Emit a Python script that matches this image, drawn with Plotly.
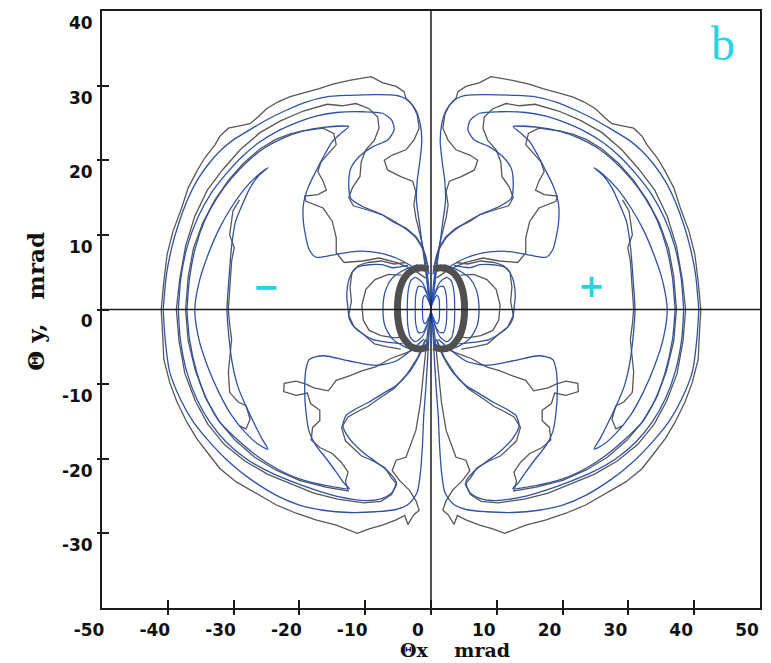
import plotly.graph_objects as go

# ---- axis ticks -------------------------------------------------------------
x_tick_vals = [-50, -40, -30, -20, -10, 0, 10, 20, 30, 40, 50]
x_tick_text = ["-50", "-40", "-30", "-20", "-10", "0", "10", "20", "30", "40", "50"]
y_tick_vals = [40, 30, 20, 10, 0, -10, -20, -30]
y_tick_text = ["40", "30", "20", "10", "0", "-10", "-20", "-30"]

# ---- contour lines of the (-) half, theta_x < 0; the (+) half is its mirror ----
# level 1, smooth (blue) and simulated (gray); upper branch then lower branch
ring1_blue_up_x = [-40.7, -40.2, -39.4, -38.4, -37.1, -35.6, -33.9, -32.1, -30.1, -27.5, -25.0, -22.0, -19.0, -15.9, -12.4, -8.4, -5.3, -3.6, -2.3, -1.6, -1.4, -1.7, -2.1, -2.2, -1.8, -1.4, -1.0, -0.6, -0.2]
ring1_blue_up_y = [0.0, 4.7, 8.3, 11.4, 14.5, 17.2, 19.4, 21.2, 22.7, 24.1, 25.4, 26.7, 27.8, 28.5, 28.7, 28.8, 28.7, 28.1, 26.7, 24.7, 22.5, 19.8, 17.2, 14.5, 11.8, 9.1, 6.5, 3.8, 1.0]
ring1_blue_lo_x = [-40.7, -40.4, -39.7, -38.1, -36.1, -33.6, -30.6, -27.5, -23.5, -20.0, -16.4, -12.4, -8.4, -5.3, -3.3, -2.1, -1.6, -1.3, -1.1, -0.8, -0.4, -0.2]
ring1_blue_lo_y = [0.0, -4.0, -8.4, -12.0, -15.1, -17.8, -20.5, -22.7, -24.9, -26.2, -26.9, -27.2, -27.1, -26.8, -26.0, -24.5, -21.8, -18.2, -14.2, -10.7, -4.9, -1.0]

ring1_gray_up_x = [-41.0, -40.6, -40.1, -39.2, -37.9, -36.9, -35.6, -34.4, -32.8, -32.1, -30.8, -29.1, -27.5, -26.3, -25.0, -23.3, -21.5, -19.5, -17.0, -14.9, -12.4, -10.4, -9.1, -7.4, -5.3, -4.1, -3.8, -2.8, -2.1, -1.8, -2.6, -3.8, -5.9, -7.1, -6.6, -4.6, -2.8, -2.3, -2.6, -2.3, -1.8, -1.3, -0.9, -0.7, -0.4]
ring1_gray_up_y = [0.0, 3.8, 7.4, 10.5, 13.6, 16.3, 18.5, 20.3, 22.1, 23.2, 24.3, 24.6, 24.9, 25.8, 26.9, 27.8, 28.5, 29.0, 29.6, 30.2, 30.7, 31.0, 31.2, 30.4, 29.9, 29.2, 28.3, 27.4, 26.1, 24.3, 22.7, 21.4, 20.7, 20.0, 18.7, 17.8, 17.2, 15.8, 14.0, 12.3, 10.5, 8.7, 6.5, 4.7, 2.0]
ring1_gray_lo_x = [-41.0, -40.8, -40.6, -39.7, -38.6, -37.1, -35.6, -33.6, -32.1, -29.6, -26.5, -23.5, -20.5, -17.5, -14.4, -12.4, -11.2, -9.4, -7.4, -5.3, -4.0, -3.5, -2.6, -1.8, -2.3, -3.3, -4.8, -5.9, -5.3, -3.8, -2.3, -1.6, -1.1, -0.7, -0.4]
ring1_gray_lo_y = [0.0, -3.1, -6.7, -9.8, -12.4, -15.1, -17.3, -19.6, -21.3, -23.1, -24.7, -26.2, -27.3, -28.2, -28.9, -29.6, -30.0, -29.4, -28.9, -28.2, -27.6, -28.8, -27.5, -26.9, -25.6, -24.2, -22.9, -21.6, -20.2, -19.8, -16.2, -12.5, -8.5, -5.0, -2.0]

# level 2
ring2_blue_up_x = [-38.4, -38.0, -37.0, -35.4, -33.4, -31.2, -28.8, -26.1, -23.3, -20.5, -17.5, -14.4, -10.4, -7.4, -6.0, -5.6, -6.6, -8.9, -10.9, -12.2, -12.5, -12.2, -10.4, -7.4, -4.3, -2.3, -0.9, -0.3]
ring2_blue_up_y = [0.0, 4.3, 8.6, 12.4, 15.6, 18.1, 20.4, 22.4, 23.9, 25.0, 25.9, 26.4, 26.5, 26.3, 25.4, 24.1, 22.7, 21.8, 20.5, 18.9, 16.7, 14.9, 13.8, 12.7, 11.1, 9.6, 7.4, 4.7]
ring2_blue_lo_x = [-38.4, -38.1, -37.1, -35.6, -33.6, -31.1, -28.1, -24.5, -21.0, -17.5, -13.9, -9.9, -7.4, -5.9, -5.3, -6.4, -8.4, -10.4, -12.4, -13.4, -12.9, -11.4, -9.4, -7.4, -5.3, -3.3, -1.8, -0.8]
ring2_blue_lo_y = [0.0, -4.0, -8.4, -12.0, -15.1, -17.8, -20.0, -21.8, -23.1, -24.2, -25.1, -25.6, -25.3, -24.5, -23.1, -21.8, -20.4, -19.1, -17.3, -15.6, -14.2, -13.3, -12.4, -11.3, -10.2, -8.4, -6.2, -4.0]

ring2_gray_up_x = [-38.7, -38.2, -37.3, -35.9, -34.0, -31.6, -29.0, -26.0, -22.8, -19.4, -15.8, -13.5, -11.4, -9.4, -8.1, -7.9, -8.6, -9.9, -10.6, -10.8, -11.9, -12.5, -11.8, -9.9, -7.4, -5.9, -3.8, -2.3, -1.2, -0.6]
ring2_gray_up_y = [0.0, 4.0, 8.5, 12.5, 16.0, 18.8, 21.4, 23.7, 25.3, 26.6, 27.5, 27.3, 27.6, 26.9, 25.8, 24.3, 22.7, 21.4, 19.8, 17.8, 16.4, 15.0, 13.9, 13.4, 12.7, 11.8, 10.9, 9.8, 8.3, 6.0]
ring2_gray_lo_x = [-38.7, -38.3, -37.4, -35.8, -33.9, -31.4, -28.3, -24.8, -21.3, -17.8, -14.2, -10.2, -7.6, -6.0, -5.2, -6.0, -7.0, -8.8, -10.6, -12.0, -13.0, -13.6, -12.6, -11.0, -9.6, -8.0, -5.6, -3.6, -2.0, -0.9]
ring2_gray_lo_y = [0.0, -4.2, -8.6, -12.3, -15.4, -18.1, -20.3, -22.1, -23.4, -24.6, -25.4, -25.9, -25.7, -24.8, -23.4, -22.6, -21.2, -20.3, -19.6, -18.4, -17.6, -15.8, -14.4, -13.6, -13.0, -12.0, -10.6, -8.6, -6.4, -4.1]

# level 3 (hooked branches)
ring3_blue_up_x = [-37.1, -36.7, -35.8, -34.4, -32.5, -30.3, -27.8, -25.2, -22.4, -19.5, -16.4, -12.5, -13.7, -15.0, -16.2, -17.5, -18.7, -19.4, -19.4, -19.0, -18.5, -17.5, -14.4, -11.4, -7.9, -5.3, -3.3, -1.8]
ring3_blue_up_y = [0.0, 4.2, 8.3, 11.9, 15.0, 17.6, 19.9, 21.7, 23.0, 23.9, 24.4, 24.5, 23.6, 22.5, 20.7, 18.5, 16.3, 14.0, 11.8, 9.6, 8.0, 7.0, 7.4, 7.8, 7.6, 6.9, 6.0, 5.1]
ring3_blue_lo_x = [-37.1, -36.7, -35.6, -34.1, -32.1, -29.6, -26.5, -23.5, -20.0, -15.9, -12.4, -13.2, -14.4, -15.9, -17.5, -18.5, -19.0, -19.2, -19.0, -18.5, -16.4, -12.4, -8.4, -5.3, -2.8, -1.1]
ring3_blue_lo_y = [0.0, -4.0, -8.4, -12.0, -15.1, -17.3, -19.6, -21.3, -22.7, -23.6, -24.0, -23.3, -21.8, -20.0, -18.2, -16.4, -13.8, -10.7, -8.0, -6.7, -6.2, -6.9, -7.5, -6.9, -5.3, -4.0]

ring3_gray_up_x = [-37.3, -36.9, -36.1, -34.7, -32.9, -30.8, -28.5, -26.0, -23.6, -21.5, -19.7, -16.4, -14.8, -14.4, -15.4, -16.7, -17.2, -16.4, -15.9, -17.2, -19.2, -19.0, -16.4, -15.0, -14.4, -14.4, -13.2, -10.4, -7.9, -5.3, -2.8, -0.8]
ring3_gray_up_y = [0.0, 4.4, 8.2, 11.6, 14.6, 17.3, 19.6, 21.5, 22.8, 23.5, 23.9, 24.3, 23.6, 22.1, 21.1, 19.8, 18.5, 17.2, 16.0, 15.4, 15.2, 14.5, 13.6, 11.8, 9.6, 7.6, 6.3, 6.5, 6.9, 6.3, 5.4, 4.2]
ring3_gray_lo_x = [-37.3, -36.9, -35.8, -34.3, -32.2, -29.8, -26.8, -23.6, -20.0, -16.0, -12.6, -13.0, -12.6, -13.6, -15.0, -16.9, -18.2, -18.0, -16.9, -16.9, -18.3, -18.8, -20.5, -22.4, -22.3, -20.5, -19.0, -17.8, -15.6, -14.4, -12.4, -10.4, -8.4, -6.2, -3.8, -1.6]
ring3_gray_lo_y = [0.0, -4.2, -8.2, -11.8, -15.0, -17.5, -19.8, -21.5, -22.9, -23.8, -24.3, -23.0, -21.8, -20.5, -19.3, -18.5, -17.5, -15.8, -14.9, -13.5, -12.6, -11.2, -11.5, -11.0, -9.9, -9.6, -10.0, -10.5, -10.9, -9.5, -8.9, -8.2, -7.7, -6.6, -5.8, -5.0]

# highest level: closed tongue inside each lobe
tongue_blue_x = [-24.8, -26.3, -28.3, -30.4, -32.2, -33.9, -35.2, -35.9, -35.3, -34.0, -32.3, -30.3, -28.1, -26.2, -24.8, -25.7, -26.9, -28.2, -29.4, -30.2, -30.7, -31.0, -30.7, -30.3, -29.7, -28.7, -27.5, -26.1, -24.8]
tongue_blue_y = [19.0, 18.0, 16.2, 13.6, 10.8, 7.3, 3.8, 0.0, -3.9, -7.5, -11.0, -14.2, -16.6, -18.1, -18.7, -17.3, -15.2, -12.8, -10.2, -7.2, -3.8, 0.0, 4.2, 8.5, 11.8, 14.0, 16.3, 18.0, 19.0]
tongue_gray_x = [-29.1, -30.1, -30.6, -29.9, -30.3, -30.6, -30.8, -30.6, -30.3, -30.8, -30.6, -29.3, -28.1, -27.5, -28.1, -29.1]
tongue_gray_y = [14.7, 13.2, 10.0, 8.3, 6.5, 2.9, 0.0, -2.0, -4.0, -8.4, -11.1, -12.4, -12.9, -14.7, -16.0, -15.6]

# loops hugging the central core
halo_outer_blue_x = [-3.5, -5.9, -7.4, -9.4, -11.4, -12.4, -12.8, -12.6, -12.4, -11.4, -8.9, -6.4, -4.3]
halo_outer_blue_y = [5.9, 5.6, 6.0, 6.0, 5.6, 4.2, 2.0, 0.0, -1.3, -2.6, -4.0, -4.4, -4.6]
halo_outer_gray_x = [-3.8, -5.6, -7.6, -9.6, -11.0, -12.0, -12.3, -12.1, -12.5, -11.7, -10.2, -8.6, -6.6, -4.6]
halo_outer_gray_y = [6.3, 6.1, 6.5, 6.3, 5.9, 5.0, 3.0, 1.1, -0.8, -2.3, -3.4, -4.6, -5.0, -5.3]
halo_mid_gray_x = [-4.5, -6.5, -8.5, -9.9, -10.5, -10.3, -9.4, -7.6, -5.5, -4.0]
halo_mid_gray_y = [4.6, 4.7, 4.0, 2.7, 0.6, -1.4, -2.8, -3.5, -3.8, -3.6]
halo_inner_blue_x = [-2.0, -4.3, -5.9, -6.9, -7.3, -7.0, -5.9, -4.2, -2.0]
halo_inner_blue_y = [6.0, 5.2, 4.2, 2.6, 0.2, -2.2, -3.9, -4.9, -5.6]

# dense core: thick simulated ring and smooth loops through the origin
core_ring_x = [-0.4, -1.5, -2.8, -4.0, -4.8, -5.1, -4.9, -4.2, -3.0, -1.6, -0.4]
core_ring_y = [5.4, 5.6, 5.3, 4.3, 2.6, 0.3, -2.0, -3.8, -5.0, -5.3, -5.0]
core_loop1_x = [0.0, -0.4, -0.9, -1.2, -1.3, -1.2, -0.9, -0.4, 0.0]
core_loop1_y = [0.0, 1.2, 1.9, 1.5, 0.0, -1.5, -1.9, -1.2, 0.0]
core_loop2_x = [0.0, -0.5, -1.2, -1.9, -2.3, -2.4, -2.3, -1.9, -1.2, -0.5, 0.0]
core_loop2_y = [0.0, 1.8, 3.0, 3.1, 2.0, 0.0, -2.0, -3.1, -3.0, -1.8, 0.0]
core_loop3_x = [0.0, -0.6, -1.4, -2.4, -3.1, -3.5, -3.6, -3.5, -3.1, -2.4, -1.4, -0.6, 0.0]
core_loop3_y = [0.0, 2.2, 3.7, 4.3, 3.8, 2.3, 0.0, -2.3, -3.8, -4.3, -3.7, -2.2, 0.0]
core_fan_x = [-0.6, -0.4, -0.2, 0.0, -0.2, -0.4, -0.6]
core_fan_y = [5.0, 3.6, 1.8, 0.0, -1.8, -3.6, -5.0]

BLUE = "#2d52ab"
GRAY = "#575757"
AXIS = "#1c1c1c"
CYAN = "#25d4e4"


def join(up_x, up_y, lo_x, lo_y):
    return up_x[::-1] + lo_x, up_y[::-1] + lo_y


fig = go.Figure()


def add_pair(xs, ys, color, width=1.3, smooth=False):
    # draw the line on the (-) side and its mirror on the (+) side
    for sign in (1, -1):
        fig.add_trace(go.Scatter(
            x=[sign * v for v in xs], y=ys, mode="lines",
            line=dict(color=color, width=width,
                      shape="spline" if smooth else "linear", smoothing=0.7),
            hoverinfo="skip", showlegend=False))


add_pair(*join(ring1_gray_up_x, ring1_gray_up_y, ring1_gray_lo_x, ring1_gray_lo_y), GRAY)
add_pair(*join(ring1_blue_up_x, ring1_blue_up_y, ring1_blue_lo_x, ring1_blue_lo_y), BLUE, smooth=True)
add_pair(*join(ring2_gray_up_x, ring2_gray_up_y, ring2_gray_lo_x, ring2_gray_lo_y), GRAY)
add_pair(*join(ring2_blue_up_x, ring2_blue_up_y, ring2_blue_lo_x, ring2_blue_lo_y), BLUE, smooth=True)
add_pair(*join(ring3_gray_up_x, ring3_gray_up_y, ring3_gray_lo_x, ring3_gray_lo_y), GRAY)
add_pair(*join(ring3_blue_up_x, ring3_blue_up_y, ring3_blue_lo_x, ring3_blue_lo_y), BLUE, smooth=True)
add_pair(tongue_gray_x, tongue_gray_y, GRAY)
add_pair(tongue_blue_x, tongue_blue_y, BLUE, smooth=True)

add_pair(halo_outer_gray_x, halo_outer_gray_y, GRAY)
add_pair(halo_outer_blue_x, halo_outer_blue_y, BLUE, smooth=True)
add_pair(halo_mid_gray_x, halo_mid_gray_y, GRAY)
add_pair(halo_inner_blue_x, halo_inner_blue_y, BLUE, smooth=True)

add_pair(core_ring_x, core_ring_y, "#505050", width=7, smooth=True)
add_pair(core_loop3_x, core_loop3_y, BLUE, width=1.2, smooth=True)
add_pair(core_loop2_x, core_loop2_y, BLUE, width=1.2, smooth=True)
add_pair(core_loop1_x, core_loop1_y, "#1f4fd0", width=1.2, smooth=True)
add_pair(core_fan_x, core_fan_y, "#1f4fd0", width=1.2, smooth=True)

tick_font = dict(family="DejaVu Sans", size=17, color="#111111", weight="bold")

fig.update_xaxes(
    range=[-50, 50], tickvals=x_tick_vals, ticktext=x_tick_text,
    ticks="inside", ticklen=8, tickwidth=1.5, tickcolor=AXIS,
    minor=dict(tickvals=x_tick_vals, ticks="outside", ticklen=5,
               tickwidth=1.5, tickcolor=AXIS),
    showline=True, mirror=True, linecolor=AXIS, linewidth=2,
    showgrid=False, zeroline=False, tickfont=tick_font,
    ticklabelshift=-13, ticklabelstandoff=6)
fig.update_yaxes(
    range=[-40, 40], tickvals=y_tick_vals, ticktext=y_tick_text,
    ticks="inside", ticklen=7, tickwidth=1.5, tickcolor=AXIS,
    minor=dict(tickvals=y_tick_vals, ticks="outside", ticklen=3,
               tickwidth=1.5, tickcolor=AXIS),
    showline=True, mirror=True, linecolor=AXIS, linewidth=2,
    showgrid=False, zeroline=False, tickfont=tick_font,
    ticklabelshift=12, ticklabelstandoff=4)

# zero lines through the origin, drawn above the contours
fig.add_shape(type="line", x0=0, x1=0, y0=-40, y1=40, xref="x", yref="y",
              line=dict(color=AXIS, width=1.5), layer="above")
fig.add_shape(type="line", x0=-50, x1=50, y0=0, y1=0, xref="x", yref="y",
              line=dict(color=AXIS, width=1.5), layer="above")

title_font_x = dict(family="DejaVu Serif", size=19, color="#111111", weight="bold")
title_font_y = dict(family="DejaVu Serif", size=23, color="#111111", weight="bold")
sign_font = dict(family="DejaVu Sans", size=32, color=CYAN, weight="bold")

fig.add_annotation(text="Θx\u00a0\u00a0\u00a0\u00a0mrad", xref="paper", yref="paper",
                   x=0.536, y=-0.0915, xanchor="center", yanchor="bottom",
                   showarrow=False, font=title_font_x)
fig.add_annotation(text="Θ y,\u00a0\u00a0\u00a0mrad", xref="paper", yref="paper",
                   x=-0.101, y=0.514, xanchor="center", yanchor="middle",
                   textangle=-90, showarrow=False, font=title_font_y)
fig.add_annotation(text="b", x=44.4, y=35.6, xref="x", yref="y", showarrow=False,
                   font=dict(family="Liberation Serif", size=48, color=CYAN))
fig.add_annotation(text="\u2212", x=-25.0, y=3.0, xref="x", yref="y", showarrow=False,
                   font=sign_font)
fig.add_annotation(text="+", x=24.4, y=3.1, xref="x", yref="y", showarrow=False,
                   font=sign_font)

fig.update_layout(
    width=771, height=663, autosize=False,
    margin=dict(l=102, r=9, t=9, b=55),
    paper_bgcolor="white", plot_bgcolor="white",
    showlegend=False)

fig.write_html("out.html")
